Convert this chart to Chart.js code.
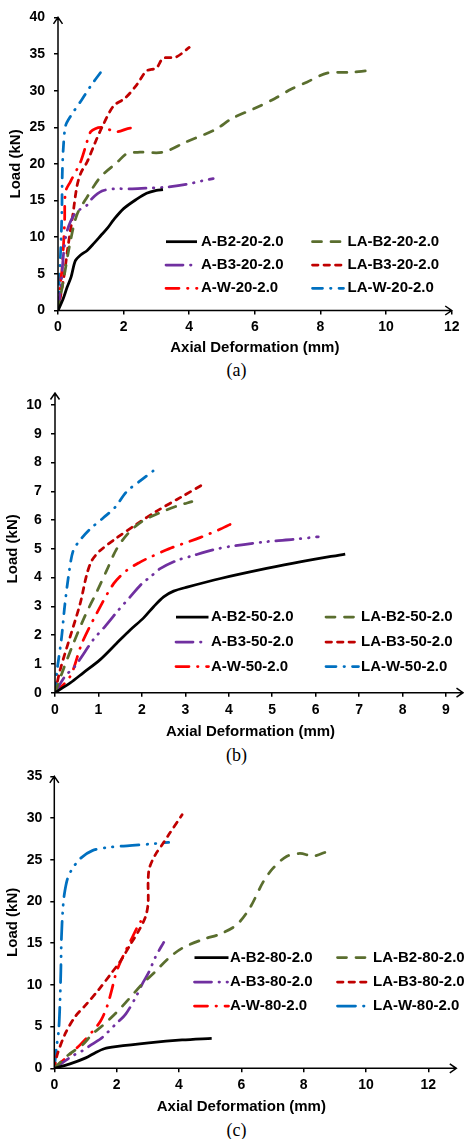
<!DOCTYPE html>
<html>
<head>
<meta charset="utf-8">
<script src="https://cdn.jsdelivr.net/npm/chart.js@4.4.0/dist/chart.umd.min.js"></script>
<style>
  body { margin: 0; background: #fff; }
  #page { position: relative; width: 464px; height: 1139px; overflow: hidden; }
  .panel { position: absolute; left: 0; }
  .cap { position: absolute; left: 0; width: 473px; text-align: center;
         font: 18px "Liberation Serif", "Times New Roman", serif; line-height: 20px; color: #000; }
</style>
</head>
<body>
<div id="page">
  <canvas id="chartA" class="panel" style="top:0" width="464" height="358"></canvas>
  <div class="cap" style="top:360px">(a)</div>
  <canvas id="chartB" class="panel" style="top:380px" width="464" height="362"></canvas>
  <div class="cap" style="top:745px">(b)</div>
  <canvas id="chartC" class="panel" style="top:760px" width="464" height="360"></canvas>
  <div class="cap" style="top:1120px">(c)</div>
</div>
<script>
// load (kN) vs axial deformation (mm), [x, y] pairs per specimen

// --- 20 mm series ---
const A_B2_20 = [[0,0],[0.15,1.5],[0.28,3.2],[0.4,4.6],[0.53,6.8],[0.7,7.6],[0.89,8.2],[1.1,9.2],[1.3,10.2],[1.5,11.2],[1.7,12.4],[2.0,13.9],[2.4,15.2],[2.7,16.0],[3.0,16.4],[3.2,16.5]];
const LA_B2_20 = [[0,0],[0.18,4.5],[0.38,9.5],[0.58,13.1],[0.89,15.5],[1.29,18.2],[1.8,20.2],[2.1,21.4],[2.5,21.6],[3.2,21.6],[3.9,23.0],[4.8,24.7],[5.3,26.2],[6.0,27.6],[6.6,28.9],[7.1,30.2],[7.6,31.2],[8.2,32.4],[8.9,32.5],[9.6,32.8]];
const A_B3_20 = [[0,0],[0.1,4.0],[0.18,8.2],[0.28,10.9],[0.53,13.3],[0.89,14.4],[1.04,15.3],[1.34,16.3],[1.7,16.6],[2.2,16.6],[2.7,16.7],[3.2,16.8],[3.9,17.2],[4.4,17.7],[4.73,18.0]];
const LA_B3_20 = [[0,0],[0.18,4.6],[0.3,8.6],[0.45,13.0],[0.58,17.0],[0.7,18.8],[0.89,20.3],[1.14,23.0],[1.34,25.0],[1.69,27.9],[2.05,29.0],[2.4,30.8],[2.7,32.7],[3.0,33.1],[3.2,34.4],[3.6,34.6],[4.0,35.9]];
const A_W_20 = [[0,0],[0.07,3.5],[0.13,6.0],[0.2,12.0],[0.23,16.2],[0.38,17.6],[0.68,20.2],[0.85,22.5],[1.0,24.4],[1.3,25.0],[1.8,24.4],[2.2,24.9],[2.45,24.5]];
const LA_W_20 = [[0,0],[0.03,3.2],[0.07,7.0],[0.1,10.4],[0.12,14.0],[0.13,18.5],[0.16,22.0],[0.23,25.2],[0.38,26.5],[0.73,28.8],[0.99,30.6],[1.3,32.5]];

// --- 50 mm series ---
const A_B2_50 = [[0,0],[0.35,0.34],[0.65,0.69],[1.04,1.15],[1.42,1.72],[1.73,2.18],[2.04,2.6],[2.27,2.99],[2.5,3.33],[2.73,3.53],[3.04,3.67],[3.81,3.97],[4.87,4.32],[5.64,4.55],[6.68,4.82]];
const LA_B2_50 = [[0,0],[0.19,0.8],[0.42,1.7],[0.7,2.7],[0.96,3.5],[1.19,4.25],[1.42,5.0],[1.69,5.55],[2.0,5.95],[2.42,6.26],[2.81,6.49],[3.15,6.64]];
const A_B3_50 = [[0,0],[0.23,0.57],[0.46,0.92],[0.88,1.84],[1.15,2.3],[1.46,2.87],[1.73,3.33],[2.0,3.79],[2.19,4.02],[2.42,4.31],[2.81,4.6],[3.12,4.74],[3.65,4.97],[4.1,5.1],[4.87,5.25],[5.49,5.33],[6.06,5.42]];
const LA_B3_50 = [[0,0],[0.12,0.8],[0.35,1.95],[0.58,3.1],[0.73,4.1],[0.85,4.6],[1.04,4.94],[1.42,5.38],[1.88,5.86],[2.35,6.32],[2.88,6.78],[3.42,7.25]];
const A_W_50 = [[0,0],[0.35,0.57],[0.62,1.72],[0.96,2.76],[1.35,3.79],[1.65,4.25],[1.96,4.54],[2.19,4.71],[2.62,5.0],[3.35,5.4],[3.81,5.69],[4.1,5.9]];
const LA_W_50 = [[0,0],[0.05,0.8],[0.15,1.9],[0.23,3.1],[0.33,4.25],[0.42,4.94],[0.58,5.31],[0.81,5.69],[1.12,6.09],[1.38,6.44],[1.65,6.99],[1.96,7.36],[2.27,7.72]];

// --- 80 mm series ---
const A_B2_80 = [[0,0],[0.48,0.5],[1.01,1.25],[1.33,1.9],[1.6,2.35],[1.97,2.6],[3.03,3.05],[4.1,3.4],[5.05,3.6]];
const LA_B2_80 = [[0,0],[0.45,1.6],[0.9,2.8],[1.22,4.1],[1.54,5.1],[1.97,6.6],[2.39,8.3],[2.82,10.1],[3.24,11.6],[3.67,13.2],[4.1,14.4],[4.8,15.5],[5.32,16.1],[5.85,17.2],[6.27,19.2],[6.71,22.4],[7.02,24.0],[7.45,25.4],[7.88,25.76],[8.31,25.45],[8.74,25.96]];
const A_B3_80 = [[0,0],[0.59,1.5],[0.9,2.1],[1.22,2.9],[1.54,3.7],[1.97,5.3],[2.29,6.5],[2.61,8.5],[2.82,10.1],[3.03,11.5],[3.24,13.3],[3.51,15.1]];
const LA_B3_80 = [[0,0],[0.1,1.7],[0.37,4.3],[0.69,6.3],[1.01,7.6],[1.44,9.5],[1.81,11.3],[2.13,12.9],[2.45,14.9],[2.71,16.5],[2.93,18.2],[3.01,19.8],[3.01,22.4],[3.05,24.0],[3.24,25.6],[3.46,26.8],[3.67,28.0],[4.1,30.4]];
const A_W_80 = [[0,0],[0.48,1.6],[0.85,2.9],[1.22,4.4],[1.49,5.7],[1.7,7.5],[1.85,9.5],[1.95,11.0],[2.07,12.3],[2.29,14.1],[2.45,15.3],[2.66,16.9],[2.77,17.6]];
const LA_W_80 = [[0,0],[0.07,2.5],[0.14,4.5],[0.18,7.7],[0.21,11.7],[0.23,15.7],[0.27,18.8],[0.32,20.8],[0.43,22.8],[0.59,24.0],[0.85,25.2],[1.22,26.1],[1.76,26.5],[2.61,26.75],[3.1,26.9],[3.67,27.1]];

// legend order: left column, right column, row by row
const specimens = ['A-B2', 'LA-B2', 'A-B3', 'LA-B3', 'A-W', 'LA-W'];

// line look for each specimen type
const lineStyles = {
  'A-B2':  { color: '#000000', dash: [] },
  'LA-B2': { color: '#5a6e2e', dash: [9, 9.5] },
  'A-B3':  { color: '#7030a0', dash: [17, 7.5, 0.5, 7.5, 0.5, 7.5] },
  'LA-B3': { color: '#c00000', dash: [5.5, 6] },
  'A-W':   { color: '#ff0000', dash: [13, 8.5, 0.5, 8.5] },
  'LA-W':  { color: '#0070c0', dash: [10, 8, 0.5, 8] }
};

const LINE_W = 2.75;
const FONT = '"Liberation Sans", Arial, sans-serif';

// axis lines with open arrow heads, plus the two-column key
const axesAndKey = {
  id: 'axesAndKey',
  afterDatasetsDraw(chart, args, opts) {
    const { ctx, chartArea: a } = chart;
    ctx.save();
    ctx.strokeStyle = '#000';
    ctx.lineWidth = 1.5;
    ctx.setLineDash([]);
    const xEnd = a.right + opts.extX;
    const yEnd = a.top - opts.extY;
    ctx.beginPath();
    ctx.moveTo(a.left, a.bottom); ctx.lineTo(xEnd, a.bottom);
    ctx.moveTo(a.left, a.bottom); ctx.lineTo(a.left, yEnd);
    ctx.moveTo(xEnd - 6.5, a.bottom - 4.5); ctx.lineTo(xEnd, a.bottom); ctx.lineTo(xEnd - 6.5, a.bottom + 4.5);
    ctx.moveTo(a.left - 4.5, yEnd + 6.5); ctx.lineTo(a.left, yEnd); ctx.lineTo(a.left + 4.5, yEnd + 6.5);
    ctx.stroke();

    // key
    ctx.font = 'bold 15px ' + FONT;
    ctx.fillStyle = '#000';
    ctx.textBaseline = 'middle';
    ctx.lineWidth = LINE_W;
    chart.data.datasets.forEach((ds, i) => {
      const x0 = opts.cols[i % 2];
      const y = opts.rows[Math.floor(i / 2)];
      ctx.strokeStyle = ds.borderColor;
      ctx.setLineDash(ds.borderDash);
      ctx.lineCap = ds.borderDash.length ? 'round' : 'butt';
      ctx.beginPath();
      ctx.moveTo(x0 + 1, y);
      ctx.lineTo(x0 + opts.sample, y);
      ctx.stroke();
      ctx.fillText(ds.label, x0 + opts.sample + opts.gap, y);
    });
    ctx.restore();
  }
};

function buildChart(id, suffix, series, axes, key, wDash) {
  const datasets = specimens.map((name, i) => {
    const st = lineStyles[name];
    const dash = (name === 'LA-W' && wDash) ? wDash : st.dash;
    return {
      label: name + suffix,
      data: series[i].map(p => ({ x: p[0], y: p[1] })),
      borderColor: st.color,
      borderDash: dash,
      borderWidth: LINE_W,
      borderCapStyle: dash.length ? 'round' : 'butt',
      borderJoinStyle: 'round',
      pointRadius: 0,
      tension: 0.3,
      fill: false
    };
  });

  const tickFont = { family: FONT, size: 14, weight: 'bold' };
  const titleFont = { family: FONT, size: 15, weight: 'bold' };

  new Chart(document.getElementById(id), {
    type: 'line',
    data: { datasets },
    options: {
      responsive: false,
      animation: false,
      devicePixelRatio: 1,
      layout: { padding: { left: 0, top: axes.top, right: axes.right, bottom: 0 } },
      plugins: {
        legend: { display: false },
        tooltip: { enabled: false },
        axesAndKey: key
      },
      scales: {
        x: {
          type: 'linear',
          min: 0, max: axes.xMax,
          ticks: { stepSize: axes.xStep, color: '#000', font: tickFont, padding: axes.xPad, maxRotation: 0 },
          grid: { drawOnChartArea: false, drawTicks: true, tickLength: 4, color: '#000', lineWidth: 1.5 },
          border: { display: false },
          title: { display: true, text: 'Axial Deformation (mm)', color: '#000', font: titleFont,
                   padding: { top: 0, bottom: axes.xTitlePad } },
          afterFit(scale) { scale.height = axes.xHeight; }
        },
        y: {
          min: 0, max: axes.yMax,
          ticks: { stepSize: axes.yStep, color: '#000', font: tickFont, padding: axes.yPad },
          grid: { drawOnChartArea: false, drawTicks: true, tickLength: 4, color: '#000', lineWidth: 1.5 },
          border: { display: false },
          title: { display: true, text: 'Load (kN)', color: '#000', font: titleFont,
                   padding: { top: axes.yTitlePad, bottom: 0 } },
          afterFit(scale) { scale.width = axes.yWidth; }
        }
      }
    },
    plugins: [axesAndKey]
  });
}

buildChart('chartA', '-20-2.0',
  [A_B2_20, LA_B2_20, A_B3_20, LA_B3_20, A_W_20, LA_W_20],
  { xMax: 12, xStep: 2, yMax: 40, yStep: 5, top: 13, right: 11, yWidth: 58, xHeight: 47.5,
    xPad: 4.5, yPad: 9, xTitlePad: 1, yTitlePad: 6.5 },
  { extX: 0, extY: 0, cols: [165, 311.5], rows: [241.7, 265, 288.3], sample: 32, gap: 4 });

buildChart('chartB', '-50-2.0',
  [A_B2_50, LA_B2_50, A_B3_50, LA_B3_50, A_W_50, LA_W_50],
  { xMax: 9, xStep: 1, yMax: 10, yStep: 1, top: 25, right: 18, yWidth: 55, xHeight: 49.3,
    xPad: 5.5, yPad: 9.3, xTitlePad: 1.3, yTitlePad: 4.3 },
  { extX: 17, extY: 12, cols: [175, 325], rows: [237, 262, 286.5], sample: 33.5, gap: 2.5 });

buildChart('chartC', '-80-2.0',
  [A_B2_80, LA_B2_80, A_B3_80, LA_B3_80, A_W_80, LA_W_80],
  { xMax: 12, xStep: 2, yMax: 35, yStep: 5, top: 14, right: 35.7, yWidth: 54.3, xHeight: 51.7,
    xPad: 4.5, yPad: 8, xTitlePad: 4.3, yTitlePad: 4.3 },
  { extX: 28, extY: 0, cols: [193.5, 336.5], rows: [197.5, 222, 246], sample: 35, gap: 1.5 },
  [18, 8, 0.5, 8, 0.5, 8]);
</script>
</body>
</html>
